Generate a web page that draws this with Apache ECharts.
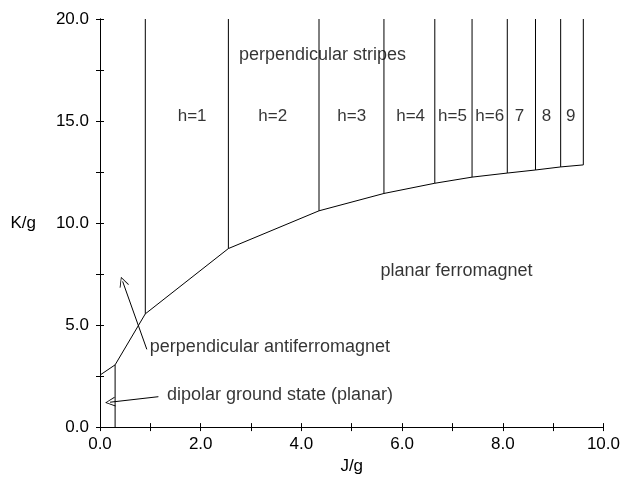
<!DOCTYPE html>
<html>
<head>
<meta charset="utf-8">
<script src="https://cdn.jsdelivr.net/npm/echarts@6/dist/echarts.min.js"></script>
<style>
  html, body { margin: 0; padding: 0; background: #fff; }
  #main { width: 623px; height: 480px; }
</style>
</head>
<body>
<div id="main"></div>
<script>
// phase boundary (lower edge of the stripe region), J/g vs K/g
var boundaryJ = [0.0, 0.3, 0.9, 2.55, 4.35, 5.64, 6.65, 7.39, 8.09, 8.65, 9.15, 9.6];
var boundaryK = [2.55, 3.05, 5.55, 8.75, 10.6, 11.45, 11.95, 12.25, 12.45, 12.6, 12.75, 12.85];
var topK = 20;

// region labels
var labelText = ['perpendicular stripes', 'h=1', 'h=2', 'h=3', 'h=4', 'h=5', 'h=6', '7', '8', '9', 'planar ferromagnet'];
var labelJ = [4.42, 1.83, 3.43, 5.0, 6.17, 7.0, 7.74, 8.33, 8.87, 9.35, 7.08];
var labelK = [18.25, 15.23, 15.23, 15.23, 15.23, 15.23, 15.23, 15.23, 15.23, 15.23, 7.64];

// annotations with arrows: text start, arrow tail, arrow head
var noteText = ['perpendicular antiferromagnet', 'dipolar ground state (planar)'];
var noteJ = [0.99, 1.33];
var noteK = [3.94, 1.56];
var arrowFrom = [[0.93, 3.81], [1.16, 1.49]];
var arrowTo = [[0.45, 7.14], [0.2, 1.22]];

var font = 'Liberation Sans, Arial, Helvetica, sans-serif';

var series = [];

// lower boundary curve
series.push({
  type: 'line',
  data: boundaryJ.map(function (j, i) { return [j, boundaryK[i]]; }),
  symbol: 'none',
  lineStyle: { color: '#000', width: 1 },
  silent: true
});

// dipolar / antiferromagnet boundary: vertical at J=0.3 down to K=0
series.push({
  type: 'line',
  data: [[boundaryJ[1], 0], [boundaryJ[1], boundaryK[1]]],
  symbol: 'none',
  lineStyle: { color: '#000', width: 1 },
  silent: true
});

// stripe domain walls: verticals up to the top
for (var i = 2; i < boundaryJ.length; i++) {
  series.push({
    type: 'line',
    data: [[boundaryJ[i], boundaryK[i]], [boundaryJ[i], topK]],
    symbol: 'none',
    lineStyle: { color: '#000', width: 1 },
    silent: true
  });
}

// region labels
series.push({
  type: 'scatter',
  symbolSize: 0,
  data: labelText.map(function (t, i) {
    return {
      value: [labelJ[i], labelK[i]], name: t,
      label: { fontSize: t.length > 4 ? 18 : 17 }
    };
  }),
  label: {
    show: true,
    position: 'inside',
    formatter: '{b}',
    color: '#000',
    fontFamily: font,
    fontSize: 17
  },
  silent: true
});

// annotation text (left aligned)
series.push({
  type: 'scatter',
  symbolSize: 0,
  data: noteText.map(function (t, i) { return { value: [noteJ[i], noteK[i]], name: t }; }),
  label: {
    show: true,
    position: 'right',
    distance: 0,
    formatter: '{b}',
    color: '#000',
    fontFamily: font,
    fontSize: 18
  },
  silent: true
});

// arrows
series.push({
  type: 'lines',
  coordinateSystem: 'cartesian2d',
  data: arrowFrom.map(function (p, i) { return { coords: [p, arrowTo[i]] }; }),
  symbol: ['none', 'path://M5,0 L10,10 L9,10 L5,1.6 L1,10 L0,10 Z'],
  symbolSize: [9, 10],
  lineStyle: { color: '#000', width: 1, opacity: 1 },
  silent: true
});

var axisText = { color: '#000', fontFamily: font, fontSize: 17 };

var option = {
  animation: false,
  backgroundColor: '#fff',
  grid: { left: 100, right: 19, top: 19, bottom: 50 },
  xAxis: [{
    type: 'value', min: 0, max: 10, interval: 1,
    name: 'J/g', nameLocation: 'middle', nameGap: 24,
    nameTextStyle: axisText,
    axisLine: { show: true, lineStyle: { color: '#000', width: 1 } },
    axisTick: { show: true, inside: true, length: 4, lineStyle: { color: '#000' } },
    axisLabel: Object.assign({
      margin: 9,
      formatter: function (v) { return Math.round(v) % 2 === 0 ? v.toFixed(1) : ''; }
    }, axisText),
    splitLine: { show: false }
  }, {
    type: 'value', min: 0, max: 10, interval: 1, position: 'top',
    axisLine: { show: true, lineStyle: { color: '#000', width: 1 } },
    axisTick: { show: true, inside: true, length: 4, lineStyle: { color: '#000' } },
    axisLabel: { show: false },
    splitLine: { show: false }
  }],
  yAxis: [{
    type: 'value', min: 0, max: 20, interval: 2.5,
    name: 'K/g', nameLocation: 'middle', nameGap: 64, nameRotate: 0,
    nameTextStyle: axisText,
    axisLine: { show: true, lineStyle: { color: '#000', width: 1 } },
    axisTick: { show: true, inside: true, length: 4, lineStyle: { color: '#000' } },
    axisLabel: Object.assign({
      margin: 11,
      formatter: function (v) { return v % 5 === 0 ? v.toFixed(1) : ''; }
    }, axisText),
    splitLine: { show: false }
  }, {
    type: 'value', min: 0, max: 20, interval: 2.5, position: 'right',
    axisLine: { show: true, lineStyle: { color: '#000', width: 1 } },
    axisTick: { show: true, inside: true, length: 4, lineStyle: { color: '#000' } },
    axisLabel: { show: false },
    splitLine: { show: false }
  }],
  series: series
};

var chart = echarts.init(document.getElementById('main'));
chart.setOption(option);
</script>
</body>
</html>
